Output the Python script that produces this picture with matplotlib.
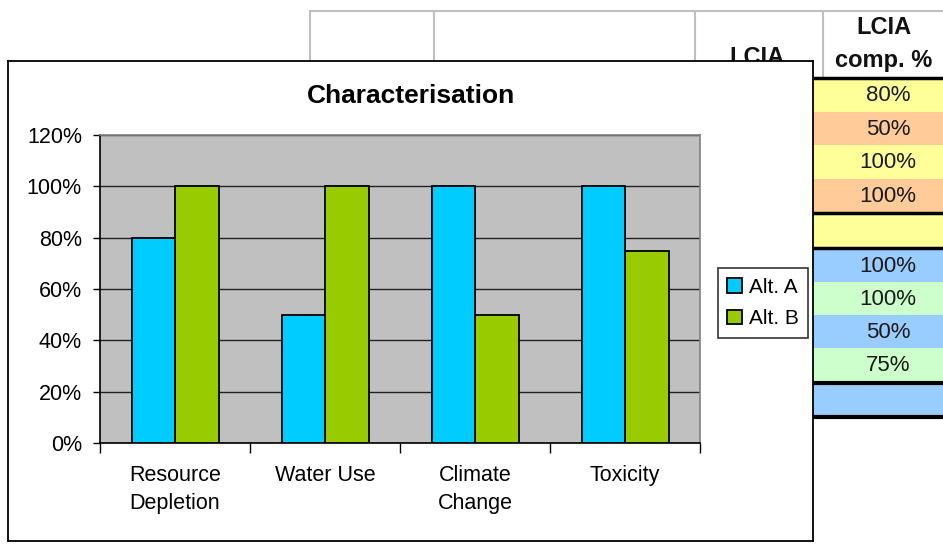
import numpy as np
import matplotlib
matplotlib.use("Agg")
import matplotlib.pyplot as plt
from matplotlib.patches import Rectangle

plt.rcParams['font.family'] = ['Liberation Sans', 'DejaVu Sans']

# data
categories = ["Resource\nDepletion", "Water Use", "Climate\nChange", "Toxicity"]
alt_a = [80, 50, 100, 100]
alt_b = [100, 100, 50, 75]
series_names = ["Alt. A", "Alt. B"]
yticks = [0, 20, 40, 60, 80, 100, 120]

W, H = 943, 544
fig = plt.figure(figsize=(W / 100, H / 100), dpi=100)


def box(x, y, w, h):
    # pixel box (top-left origin) -> figure fraction rect
    return [x / W, 1 - (y + h) / H, w / W, h / H]


# --- spreadsheet behind the chart ---
bg = fig.add_axes([0, 0, 1, 1], zorder=0)
bg.set_xlim(0, W)
bg.set_ylim(H, 0)
bg.axis("off")

grid_c = "#C0C0C0"
bg.plot([310, W], [11, 11], color=grid_c, lw=1.5)
for gx in [310, 434, 695, 823]:
    bg.plot([gx, gx], [11, 78], color=grid_c, lw=1.5)
bg.text(757, 64, "LCIA", ha="center", va="baseline", fontsize=17,
        fontweight="bold", color="#111111")
bg.text(884, 34, "LCIA", ha="center", va="baseline", fontsize=17,
        fontweight="bold", color="#111111")
bg.text(884, 67, "comp. %", ha="center", va="baseline", fontsize=17,
        fontweight="bold", color="#111111")

col_x0, col_x1 = 813, W


def cell_block(top, vals, c1, c2, row_h=33.5):
    y = top
    for i, v in enumerate(vals):
        col = c1 if i % 2 == 0 else c2
        bg.add_patch(Rectangle((col_x0, y), col_x1 - col_x0, row_h,
                               facecolor=col, edgecolor="none"))
        bg.text(888, y + row_h / 2 + 1, f"{v}%", ha="center", va="center",
                fontsize=16, color="#1a1a1a")
        y += row_h
    return y


cell_block(78, alt_a, "#FFFF99", "#FFCC99")
bg.add_patch(Rectangle((col_x0, 214), col_x1 - col_x0, 33,
                       facecolor="#FFFF99", edgecolor="none"))
cell_block(249, alt_b, "#99CCFF", "#CCFFCC", row_h=33)
bg.add_patch(Rectangle((col_x0, 384), col_x1 - col_x0, 32,
                       facecolor="#99CCFF", edgecolor="none"))
for ly, lw in [(78, 2.5), (213, 2.5), (248, 2.5), (382.5, 3), (417, 3)]:
    bg.plot([col_x0, col_x1], [ly, ly], color="black", lw=lw,
            solid_capstyle="butt")

# --- chart frame ---
frame = fig.add_axes(box(8, 61, 805, 480), zorder=1)
frame.set_facecolor("white")
frame.set_xticks([])
frame.set_yticks([])
for s in frame.spines.values():
    s.set_color("black")
    s.set_linewidth(1.3)

fig.text(411 / W, 1 - 96 / H, "Characterisation", ha="center", va="center",
         fontsize=19, fontweight="bold", zorder=5)

# --- plot area ---
ax = fig.add_axes(box(100, 135, 600, 308), zorder=2)
ax.set_facecolor("#C0C0C0")
x = np.arange(len(categories))
bw = 0.29
ax.bar(x - bw / 2, alt_a, bw, color="#00CCFF", edgecolor="black",
       linewidth=1.3, label=series_names[0], zorder=3)
ax.bar(x + bw / 2, alt_b, bw, color="#99CC00", edgecolor="black",
       linewidth=1.3, label=series_names[1], zorder=3)

ax.set_xlim(-0.5, len(categories) - 0.5)
ax.set_ylim(0, 120)
ax.set_yticks(yticks)
ax.set_yticklabels([f"{t}%" for t in yticks], fontsize=15.5)
ax.yaxis.grid(True, color="#222222", lw=1.0, zorder=1)
ax.set_axisbelow(True)
ax.tick_params(axis="y", direction="out", length=5, width=1, pad=8)

ax.set_xticks(x)
ax.set_xticklabels(categories, fontsize=15.5, linespacing=1.4)
ax.set_xticks(np.arange(len(categories) + 1) - 0.5, minor=True)
ax.tick_params(axis="x", which="major", length=0, pad=16)
ax.tick_params(axis="x", which="minor", direction="out", length=7, width=1)

ax.spines["left"].set_color("black")
ax.spines["bottom"].set_color("black")
ax.spines["top"].set_color("#808080")
ax.spines["right"].set_color("#808080")
for s in ax.spines.values():
    s.set_linewidth(1.2)

leg = ax.legend(loc="center", bbox_to_anchor=(763 / W, 1 - 303 / H),
                bbox_transform=fig.transFigure, fontsize=15, frameon=True,
                fancybox=False, handlelength=0.7, handleheight=0.7,
                handletextpad=0.35, borderpad=0.45, labelspacing=0.6,
                borderaxespad=0)
leg.get_frame().set_edgecolor("black")
leg.get_frame().set_linewidth(1.2)

fig.savefig("out.png", dpi=100)
